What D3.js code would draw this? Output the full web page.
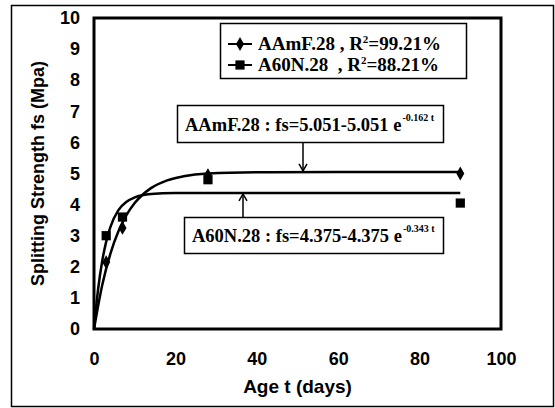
<!DOCTYPE html>
<html>
<head>
<meta charset="utf-8">
<script src="https://d3js.org/d3.v7.min.js"></script>
<style>
body { margin: 0; background: #fff; }
</style>
</head>
<body>
<svg id="chart"></svg>
<script>
// measured points (age in days, splitting strength in MPa)
var ageAAmF = [3, 7, 28, 90];
var fsAAmF = [2.15, 3.25, 4.95, 5.0];
var ageA60N = [3, 7, 28, 90];
var fsA60N = [3.0, 3.6, 4.8, 4.05];

// fitted curves
var fitAgeAAmF = [0, 2, 4, 6, 8, 10, 14, 18, 22, 28, 40, 60, 90];
var fitFsAAmF = [0, 1.40, 2.41, 3.14, 3.67, 4.05, 4.53, 4.78, 4.91, 5.0, 5.04, 5.05, 5.05];
var fitAgeA60N = [0, 1, 2, 3, 4, 6, 8, 10, 14, 20, 30, 60, 90];
var fitFsA60N = [0, 1.27, 2.17, 2.81, 3.27, 3.82, 4.09, 4.23, 4.34, 4.37, 4.375, 4.375, 4.375];

var xTicks = [0, 20, 40, 60, 80, 100];
var yTicks = [0, 1, 2, 3, 4, 5, 6, 7, 8, 9, 10];

var width = 555;
var height = 408;
var margin = {top: 18, right: 54, bottom: 79, left: 94};

var svg = d3.select("#chart")
    .attr("width", width)
    .attr("height", height);

var x = d3.scaleLinear().domain([0, 100]).range([margin.left, width - margin.right]);
var y = d3.scaleLinear().domain([0, 10]).range([height - margin.bottom, margin.top]);

var sans = "Liberation Sans, Arial, sans-serif";
var serif = "Liberation Serif, Times New Roman, serif";

// outer frame
svg.append("rect")
    .attr("x", 11.5).attr("y", 5.5)
    .attr("width", 542).attr("height", 401)
    .attr("fill", "none").attr("stroke", "#000").attr("stroke-width", 1.5);

// axes (labels only)
var xAxis = svg.append("g")
    .attr("transform", "translate(0," + (height - margin.bottom) + ")")
    .call(d3.axisBottom(x).tickValues(xTicks).tickSize(0).tickPadding(23));
xAxis.select(".domain").remove();
xAxis.selectAll("text")
    .style("font-family", sans)
    .style("font-size", "18px").style("font-weight", "bold").attr("fill", "#000");

var yAxis = svg.append("g")
    .attr("transform", "translate(" + margin.left + ",0)")
    .call(d3.axisLeft(y).tickValues(yTicks).tickSize(0).tickPadding(14));
yAxis.select(".domain").remove();
yAxis.selectAll("text")
    .style("font-family", sans)
    .style("font-size", "18px").style("font-weight", "bold").attr("fill", "#000");

// plot border
svg.append("rect")
    .attr("x", x(0)).attr("y", y(10))
    .attr("width", x(100) - x(0)).attr("height", y(0) - y(10))
    .attr("fill", "none").attr("stroke", "#000").attr("stroke-width", 3);

// axis titles
svg.append("text")
    .attr("x", (x(0) + x(100)) / 2).attr("y", 393)
    .attr("text-anchor", "middle")
    .style("font-family", sans)
    .style("font-size", "19px").style("font-weight", "bold")
    .text("Age t (days)");

svg.append("text")
    .attr("transform", "translate(44," + ((y(0) + y(10)) / 2) + ") rotate(-90)")
    .attr("text-anchor", "middle")
    .style("font-family", sans)
    .style("font-size", "18px").style("font-weight", "bold")
    .text("Splitting Strength fs (Mpa)");

// fitted curves
var line = d3.line()
    .x(function (d) { return x(d[0]); })
    .y(function (d) { return y(d[1]); })
    .curve(d3.curveMonotoneX);

svg.append("path")
    .datum(d3.zip(fitAgeAAmF, fitFsAAmF))
    .attr("d", line)
    .attr("fill", "none").attr("stroke", "#000").attr("stroke-width", 2.5);

svg.append("path")
    .datum(d3.zip(fitAgeA60N, fitFsA60N))
    .attr("d", line)
    .attr("fill", "none").attr("stroke", "#000").attr("stroke-width", 2.5);

// markers
var diamond = d3.symbol().type(d3.symbolDiamond).size(55);
var square = d3.symbol().type(d3.symbolSquare).size(85);

svg.selectAll(".sq")
    .data(d3.zip(ageA60N, fsA60N))
    .enter().append("path")
    .attr("class", "sq")
    .attr("d", square)
    .attr("transform", function (d) { return "translate(" + x(d[0]) + "," + y(d[1]) + ")"; })
    .attr("fill", "#000");

svg.selectAll(".dm")
    .data(d3.zip(ageAAmF, fsAAmF))
    .enter().append("path")
    .attr("class", "dm")
    .attr("d", diamond)
    .attr("transform", function (d) { return "translate(" + x(d[0]) + "," + y(d[1]) + ")"; })
    .attr("fill", "#000");

// legend
svg.append("rect")
    .attr("x", 220.5).attr("y", 23.5).attr("width", 246).attr("height", 55)
    .attr("fill", "#fff").attr("stroke", "#000").attr("stroke-width", 1.5);

var legendRows = [
    {name: "AAmF.28 , R", r2: "=99.21%", sym: diamond, yy: 44},
    {name: "A60N.28  , R", r2: "=88.21%", sym: square, yy: 65}
];
legendRows.forEach(function (r) {
    svg.append("line")
        .attr("x1", 228).attr("x2", 252).attr("y1", r.yy).attr("y2", r.yy)
        .attr("stroke", "#000").attr("stroke-width", 2);
    svg.append("path").attr("d", r.sym)
        .attr("transform", "translate(240," + r.yy + ")").attr("fill", "#000");
    var t = svg.append("text")
        .attr("x", 258).attr("y", r.yy + 6)
        .style("font-family", serif).style("font-size", "19px").style("font-weight", "bold")
        .style("white-space", "pre");
    t.append("tspan").text(r.name);
    t.append("tspan").attr("dy", -7).style("font-size", "11px").text("2");
    t.append("tspan").attr("dy", 7).text(r.r2);
});

// equation boxes
function eqBox(bx, by, bw, bh, label, expo) {
    svg.append("rect")
        .attr("x", bx + 0.5).attr("y", by + 0.5).attr("width", bw).attr("height", bh)
        .attr("fill", "#fff").attr("stroke", "#000").attr("stroke-width", 1.5);
    var t = svg.append("text")
        .attr("x", bx + 8).attr("y", by + bh - 11)
        .style("font-family", serif).style("font-size", "18.5px").style("font-weight", "bold");
    t.append("tspan").text(label);
    t.append("tspan").attr("dy", -10).attr("dx", 1).style("font-size", "10px").text(expo);
}

eqBox(177, 105, 266, 37, "AAmF.28 : fs=5.051-5.051 e", "-0.162 t");
eqBox(184, 217, 259, 36, "A60N.28 : fs=4.375-4.375 e", "-0.343 t");

// arrows
function arrow(ax, y1, y2) {
    svg.append("line")
        .attr("x1", ax).attr("x2", ax).attr("y1", y1).attr("y2", y2)
        .attr("stroke", "#000").attr("stroke-width", 1.5);
    var d = y2 > y1 ? -1 : 1;
    svg.append("path")
        .attr("d", "M" + (ax - 4) + "," + (y2 + d * 7) + "L" + ax + "," + y2 + "L" + (ax + 4) + "," + (y2 + d * 7))
        .attr("fill", "none").attr("stroke", "#000").attr("stroke-width", 1.5);
}
arrow(303, 143, y(5.05) - 1);
arrow(243, 217, y(4.375) + 1);
</script>
</body>
</html>
